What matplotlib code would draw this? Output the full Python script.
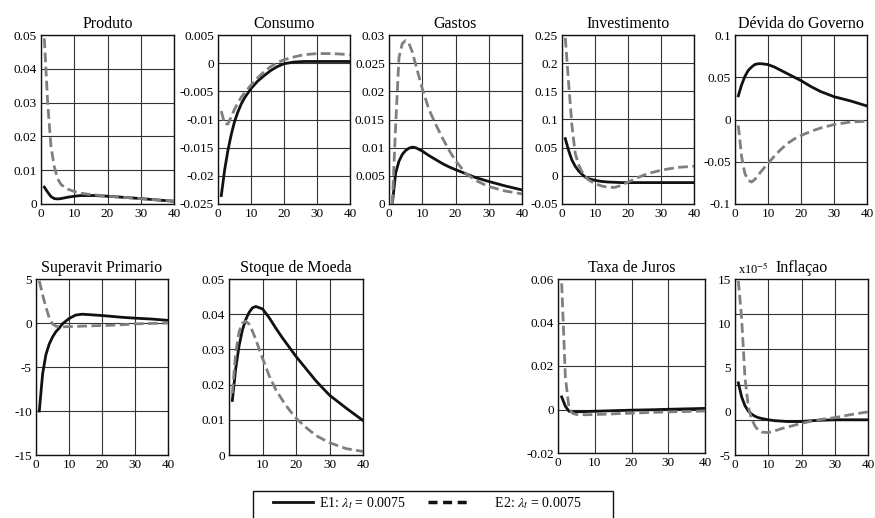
import matplotlib
matplotlib.use("Agg")
import matplotlib.pyplot as plt
from matplotlib.patches import Rectangle
from matplotlib.lines import Line2D
from matplotlib.ticker import FuncFormatter

# periodos (trimestres)
periodos = [1, 2, 3, 4, 5, 6, 7, 8, 10, 12, 14, 16, 18, 20, 23, 26, 30, 35, 40]

produto_e1 = [0.0050, 0.0035, 0.0022, 0.0016, 0.0015, 0.0016, 0.0018, 0.0020, 0.0023, 0.0025,
              0.0025, 0.0025, 0.0024, 0.0023, 0.0021, 0.0019, 0.0016, 0.0012, 0.0008]
produto_e2 = [0.049, 0.030, 0.017, 0.011, 0.0075, 0.0058, 0.0050, 0.0044, 0.0037, 0.0032,
              0.0029, 0.0027, 0.0025, 0.0023, 0.0021, 0.0019, 0.0016, 0.0012, 0.0009]

consumo_e1 = [-0.0235, -0.0190, -0.0155, -0.0127, -0.0104, -0.0087, -0.0073, -0.0062, -0.0045, -0.0032,
              -0.0022, -0.0013, -0.0006, -0.0001, 0.0002, 0.0003, 0.0003, 0.0003, 0.0003]
consumo_e2 = [-0.0085, -0.0108, -0.0108, -0.0095, -0.0082, -0.0071, -0.0061, -0.0053, -0.0039, -0.0026,
              -0.0015, -0.0006, 0.0001, 0.0006, 0.0011, 0.0015, 0.0017, 0.0017, 0.0015]

gastos_e1 = [0.0, 0.0055, 0.0076, 0.0088, 0.0095, 0.0099, 0.0101, 0.0100, 0.0094, 0.0086,
             0.0079, 0.0072, 0.0066, 0.0061, 0.0054, 0.0047, 0.0040, 0.0032, 0.0025]
gastos_e2 = [0.0, 0.014, 0.026, 0.0285, 0.029, 0.0285, 0.027, 0.0248, 0.0205, 0.0168,
             0.0142, 0.0118, 0.0096, 0.0077, 0.0055, 0.0042, 0.0031, 0.0023, 0.0018]

invest_e1 = [0.066, 0.045, 0.028, 0.017, 0.009, 0.003, -0.002, -0.005, -0.008, -0.010,
             -0.011, -0.0115, -0.012, -0.012, -0.012, -0.012, -0.012, -0.012, -0.012]
invest_e2 = [0.245, 0.165, 0.090, 0.040, 0.020, 0.008, -0.001, -0.007, -0.014, -0.018,
             -0.0205, -0.0205, -0.017, -0.011, -0.003, 0.004, 0.010, 0.015, 0.017]

divida_e1 = [0.028, 0.041, 0.051, 0.058, 0.062, 0.065, 0.066, 0.066, 0.065, 0.062,
             0.058, 0.054, 0.050, 0.046, 0.039, 0.033, 0.027, 0.022, 0.016]
divida_e2 = [-0.007, -0.044, -0.064, -0.072, -0.074, -0.071, -0.066, -0.061, -0.052, -0.043,
             -0.035, -0.028, -0.023, -0.019, -0.014, -0.010, -0.006, -0.003, -0.002]

superavit_e1 = [-10.0, -5.8, -3.6, -2.4, -1.6, -1.0, -0.6, -0.1, 0.5, 0.9,
                1.0, 0.95, 0.9, 0.85, 0.75, 0.65, 0.55, 0.45, 0.3]
superavit_e2 = [4.8, 3.2, 1.8, 0.6, -0.1, -0.35, -0.45, -0.45, -0.4, -0.4,
                -0.35, -0.35, -0.3, -0.3, -0.25, -0.2, -0.1, -0.05, 0.0]

moeda_e1 = [0.0155, 0.0245, 0.031, 0.0355, 0.0385, 0.0405, 0.0418, 0.0422, 0.0415, 0.0390,
            0.0360, 0.0332, 0.0306, 0.0280, 0.0245, 0.0210, 0.0170, 0.0133, 0.0098]
moeda_e2 = [0.0175, 0.029, 0.035, 0.0375, 0.038, 0.0372, 0.0352, 0.0328, 0.0275, 0.0225,
            0.0185, 0.0155, 0.0128, 0.0105, 0.0078, 0.0055, 0.0035, 0.0018, 0.0010]

juros_e1 = [0.0058, 0.0015, -0.0008, -0.0010, -0.0010, -0.0010, -0.0010, -0.0009, -0.0008, -0.0007,
            -0.0006, -0.0005, -0.0004, -0.0003, -0.0002, -0.0001, 0.0001, 0.0003, 0.0005]
juros_e2 = [0.058, 0.015, 0.0005, -0.0018, -0.0023, -0.0024, -0.0024, -0.0024, -0.0023, -0.0022,
            -0.0021, -0.0019, -0.0018, -0.0017, -0.0015, -0.0013, -0.0011, -0.0009, -0.0007]

# inflacao em unidades de 1e-5
inflacao_e1 = [3.2, 1.6, 0.6, 0.0, -0.35, -0.6, -0.75, -0.85, -1.0, -1.1,
               -1.15, -1.2, -1.2, -1.2, -1.1, -1.05, -1.0, -1.0, -1.0]
inflacao_e2 = [14.8, 10.5, 3.8, 0.5, -0.9, -1.7, -2.2, -2.4, -2.45, -2.25,
               -2.0, -1.8, -1.6, -1.4, -1.15, -0.95, -0.75, -0.4, -0.1]

rotulo_e1 = r"E1: $\lambda_t$ = 0.0075"
rotulo_e2 = r"      E2: $\lambda_t$ = 0.0075"

plt.rcParams["font.family"] = ["Liberation Serif", "DejaVu Serif"]
plt.rcParams["mathtext.fontset"] = "stix"

W, H = 875, 518
fig = plt.figure(figsize=(W / 100, H / 100), dpi=100)

COR_E2 = "#7f7f7f"


def cria_eixo(esq, topo, dir, base):
    return fig.add_axes([esq / W, 1 - base / H, (dir - esq) / W, (base - topo) / H])


def painel(rect, titulo, e1, e2, yticks, xticks=(0, 10, 20, 30, 40)):
    ax = cria_eixo(*rect)
    ax.plot(periodos, e1, color="#111111", lw=2.0, zorder=3)
    ax.plot(periodos, e2, color=COR_E2, lw=2.0, dashes=(3.5, 1.6), zorder=4)
    ax.set_xlim(0, 40)
    ax.set_ylim(yticks[0], yticks[-1])
    ax.set_xticks([0, 10, 20, 30, 40])
    ax.set_xticklabels([str(t) if t in xticks else "" for t in [0, 10, 20, 30, 40]])
    ax.set_yticks(yticks)
    ax.yaxis.set_major_formatter(FuncFormatter(lambda v, p: "%g" % round(v, 6)))
    ax.tick_params(length=0, labelsize=9.5, pad=3)
    ax.tick_params(axis="x", pad=3)
    ax.grid(True, color="#333333", lw=0.8)
    for s in ax.spines.values():
        s.set_linewidth(1.0)
        s.set_color("#111111")
    ax.set_title(titulo, fontsize=11.5, pad=5)
    return ax


painel((41, 35, 174, 204), "Produto", produto_e1, produto_e2,
       [0, 0.01, 0.02, 0.03, 0.04, 0.05])
painel((218, 35, 350, 204), "Consumo", consumo_e1, consumo_e2,
       [-0.025, -0.02, -0.015, -0.01, -0.005, 0, 0.005])
painel((389, 35, 522, 204), "Gastos", gastos_e1, gastos_e2,
       [0, 0.005, 0.01, 0.015, 0.02, 0.025, 0.03])
painel((562, 35, 694, 204), "Investimento", invest_e1, invest_e2,
       [-0.05, 0, 0.05, 0.1, 0.15, 0.2, 0.25])
painel((735, 35, 867, 204), "Dévida do Governo", divida_e1, divida_e2,
       [-0.1, -0.05, 0, 0.05, 0.1])

painel((36, 279, 168, 455), "Superavit Primario", superavit_e1, superavit_e2,
       [-15, -10, -5, 0, 5])
painel((229, 279, 363, 455), "Stoque de Moeda", moeda_e1, moeda_e2,
       [0, 0.01, 0.02, 0.03, 0.04, 0.05], xticks=(10, 20, 30, 40))
painel((558, 279, 705, 453), "Taxa de Juros", juros_e1, juros_e2,
       [-0.02, 0, 0.02, 0.04, 0.06])
ax_inf = painel((735, 279, 868, 455), "Inflaçao", inflacao_e1, inflacao_e2,
                [-5, 0, 5, 10, 15])
# grade horizontal da inflacao fica deslocada dos rotulos no original
ax_inf.grid(False, axis="y")
ax_inf.set_yticks([-1, 3, 7, 11], minor=True)
ax_inf.tick_params(which="minor", length=0)
ax_inf.grid(True, axis="y", which="minor", color="#333333", lw=0.8)
ax_inf.text(0.02, 1.01, r"x10$^{-5}$", transform=ax_inf.transAxes, fontsize=9,
            ha="left", va="bottom")

# legenda: caixa cortada pela borda inferior
fig.patches.append(Rectangle((253 / W, -0.05), (613 - 253) / W, (518 - 491) / H + 0.05,
                             transform=fig.transFigure, fill=False, ec="#111111", lw=1.0))
h1 = Line2D([], [], color="#111111", lw=2.0)
h2 = Line2D([], [], color="#111111", lw=2.5, dashes=(2.6, 1.6))
fig.legend([h1, h2], [rotulo_e1, rotulo_e2], ncol=2, frameon=False,
           loc="center left", bbox_to_anchor=(273 / W, 1 - 503 / H),
           borderpad=0, borderaxespad=0, handlelength=2.9, handletextpad=0.4,
           columnspacing=1.6, fontsize=10)

fig.savefig("out.png", dpi=100)
